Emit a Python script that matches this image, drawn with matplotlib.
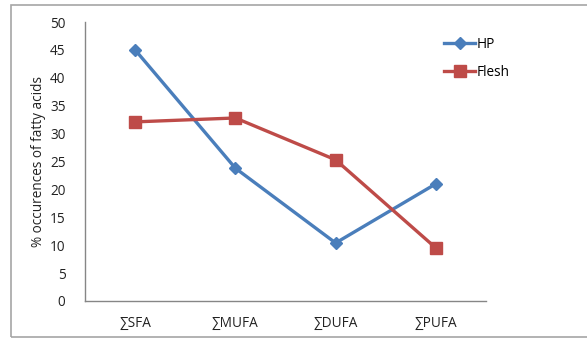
import matplotlib
matplotlib.use("Agg")
import matplotlib.pyplot as plt
from matplotlib.patches import Rectangle

# fatty acid classes and their % occurrence
categories = ["∑SFA", "∑MUFA", "∑DUFA", "∑PUFA"]
hp = [45.0, 23.8, 10.4, 21.0]
flesh = [32.1, 32.8, 25.3, 9.5]
yticks = [0, 5, 10, 15, 20, 25, 30, 35, 40, 45, 50]

plt.rcParams['font.family'] = ['Open Sans', 'DejaVu Sans']

fig = plt.figure(figsize=(5.87, 3.39), dpi=100)
W, H = 587, 339
ax = fig.add_axes([85 / W, 1 - 301 / H, (486 - 85) / W, (301 - 22) / H])

# chart frame
fig.patches.append(Rectangle((11 / W, 2 / H), 1.0, 332 / H, transform=fig.transFigure,
                             fill=False, edgecolor="#a6a6a6", linewidth=1.2))

x = list(range(len(categories)))
ax.plot(x, hp, color="#4a7ebb", linewidth=2.4, marker="D", markersize=6, label="HP")
ax.plot(x, flesh, color="#be4b48", linewidth=2.4, marker="s", markersize=8, label="Flesh")

ax.set_xlim(-0.5, len(categories) - 0.5)
ax.set_ylim(0, 50)
ax.set_yticks(yticks)
ax.set_xticks(x)
ax.set_xticklabels(categories)
ax.tick_params(axis="both", length=0, labelsize=9.8, colors="#222222")
ax.tick_params(axis="y", pad=14)
ax.tick_params(axis="x", pad=11)

for side in ["top", "right"]:
    ax.spines[side].set_visible(False)
for side in ["left", "bottom"]:
    ax.spines[side].set_color("#868686")
    ax.spines[side].set_linewidth(1.0)

ax.set_ylabel("% occurences of fatty acids", fontsize=9.8, color="#222222", labelpad=3)

leg = ax.legend(loc="upper left", bbox_to_anchor=((444 - 85) / (486 - 85), 1.0 - (37 - 22) / (301 - 22)),
                frameon=False, fontsize=9.8, handlelength=2.3, handletextpad=0.1,
                labelspacing=0.95, borderaxespad=0, borderpad=0)
leg.set_clip_on(False)

fig.savefig("out.png", dpi=100)
